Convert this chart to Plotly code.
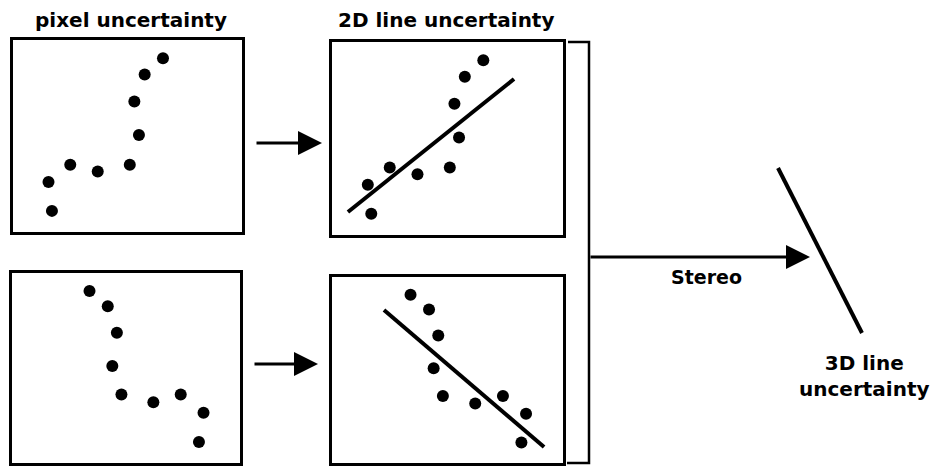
import plotly.graph_objects as go

# ---- data (panel-local coordinates, 0..10) ----
top_x = [6.55, 5.75, 5.3, 5.5, 5.1, 3.7, 2.5, 1.55, 1.7]
top_y = [9.05, 8.2, 6.8, 5.05, 3.5, 3.15, 3.5, 2.6, 1.1]
bottom_x = [3.4, 4.2, 4.6, 4.4, 4.8, 6.2, 7.4, 8.4, 8.2]
bottom_y = [9.05, 8.25, 6.85, 5.1, 3.6, 3.2, 3.6, 2.65, 1.1]

fit_top_x = [0.69, 7.88]
fit_top_y = [1.19, 8.08]
fit_bottom_x = [2.25, 9.18]
fit_bottom_y = [8.23, 0.86]

# 3D line in overall figure coordinates (pixels of the page)
line3d_x = [778, 862]
line3d_y = [168, 333]

titles = ["pixel uncertainty", "2D line uncertainty"]
stereo_label = "Stereo"
label_3d = "3D line<br>uncertainty"

W, H = 931, 466
FONT = dict(family="DejaVu Sans", size=20, color="black", weight="bold")

# panel boxes in pixels: (left, right, top, bottom)
boxes = {
    2: (13, 242, 40, 232),
    3: (332, 563, 42, 235),
    4: (12, 240, 273, 463),
    5: (332, 563, 277, 463),
}

fig = go.Figure()

layout = dict(
    width=W, height=H,
    margin=dict(l=0, r=0, t=0, b=0),
    paper_bgcolor="white", plot_bgcolor="rgba(0,0,0,0)",
    showlegend=False, hovermode=False,
    xaxis=dict(domain=[0, 1], range=[0, W], visible=False, fixedrange=True),
    yaxis=dict(domain=[0, 1], range=[H, 0], visible=False, fixedrange=True),
)
for k, (l, r, t, b) in boxes.items():
    layout[f"xaxis{k}"] = dict(
        domain=[l / W, r / W], range=[0, 10], anchor=f"y{k}",
        showline=True, mirror=True, linecolor="black", linewidth=3,
        showticklabels=False, ticks="", showgrid=False, zeroline=False,
    )
    layout[f"yaxis{k}"] = dict(
        domain=[1 - b / H, 1 - t / H], range=[0, 10], anchor=f"x{k}",
        showline=True, mirror=True, linecolor="black", linewidth=3,
        showticklabels=False, ticks="", showgrid=False, zeroline=False,
    )
fig.update_layout(**layout)

mk = dict(color="black", size=12)
fig.add_trace(go.Scatter(x=top_x, y=top_y, mode="markers", marker=mk, xaxis="x2", yaxis="y2"))
fig.add_trace(go.Scatter(x=bottom_x, y=bottom_y, mode="markers", marker=mk, xaxis="x4", yaxis="y4"))
fig.add_trace(go.Scatter(x=top_x, y=top_y, mode="markers", marker=mk, xaxis="x3", yaxis="y3"))
fig.add_trace(go.Scatter(x=fit_top_x, y=fit_top_y, mode="lines",
                         line=dict(color="black", width=4), xaxis="x3", yaxis="y3"))
fig.add_trace(go.Scatter(x=bottom_x, y=bottom_y, mode="markers", marker=mk, xaxis="x5", yaxis="y5"))
fig.add_trace(go.Scatter(x=fit_bottom_x, y=fit_bottom_y, mode="lines",
                         line=dict(color="black", width=4), xaxis="x5", yaxis="y5"))
fig.add_trace(go.Scatter(x=line3d_x, y=line3d_y, mode="lines",
                         line=dict(color="black", width=4), xaxis="x", yaxis="y"))

# bracket joining the two 2D panels
fig.add_shape(type="path", xref="x", yref="y",
              path="M 568,42 L 589,42 L 589,463 L 567,463",
              line=dict(color="black", width=2.5))

# arrows
arrows = [((255, 143), (322, 143)), ((253, 364), (318, 364)), ((589, 257), (810, 257))]
for (tx, ty), (hx, hy) in arrows:
    fig.add_annotation(x=hx, y=hy, ax=tx, ay=ty, xref="x", yref="y", axref="x", ayref="y",
                       text="", showarrow=True, arrowhead=2, arrowsize=1.6,
                       arrowwidth=3, arrowcolor="black", standoff=0, startstandoff=0)

# texts
fig.add_annotation(x=131, y=20, xref="x", yref="y", text=titles[0], showarrow=False, font=FONT)
fig.add_annotation(x=446, y=20, xref="x", yref="y", text=titles[1], showarrow=False, font=FONT)
fig.add_annotation(x=706, y=277, xref="x", yref="y", text=stereo_label, showarrow=False,
                   font=dict(FONT, size=19))
fig.add_annotation(x=864, y=376, xref="x", yref="y", text=label_3d, showarrow=False,
                   font=FONT, align="center")

fig.write_html("out.html", config=dict(displayModeBar=False),
               post_script="document.body.style.margin='0';document.body.style.overflow='hidden';")
